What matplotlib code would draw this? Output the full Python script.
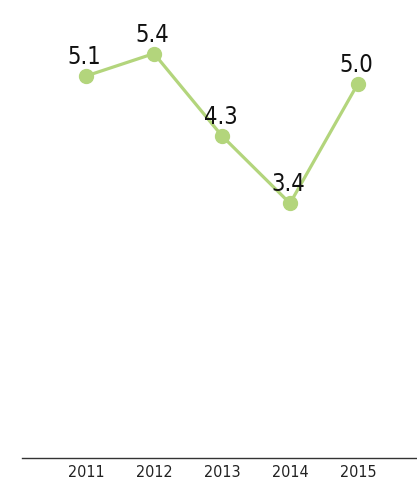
import matplotlib
matplotlib.use("Agg")
import matplotlib.pyplot as plt

# data
years = [2011, 2012, 2013, 2014, 2015]
values = [5.1, 5.4, 4.3, 3.4, 5.0]
value_labels = ["5.1", "5.4", "4.3", "3.4", "5.0"]

green = "#b3d57c"

plt.rcParams["font.family"] = ["DejaVu Sans"]
plt.rcParams["font.stretch"] = "condensed"

fig = plt.figure(figsize=(4.17, 4.83), dpi=100)
ax = fig.add_axes([22 / 417, 25 / 483, 395 / 417, 458 / 483])

ax.plot(years, values, color=green, linewidth=2.3, marker="o",
        markersize=10, markerfacecolor=green, markeredgecolor=green, zorder=3)

for x, v, lab in zip(years, values, value_labels):
    ax.annotate(lab, (x, v), xytext=(-1, 5), textcoords="offset points",
                ha="center", va="bottom", fontsize=17, color="#111111", zorder=4)

ax.set_xlim(2011 - 64 / 68, 2015 + 59 / 68)
ax.set_ylim(0, 458 / 74.9)

for s in ["top", "right", "left"]:
    ax.spines[s].set_visible(False)
ax.spines["bottom"].set_color("#333333")
ax.spines["bottom"].set_linewidth(1.0)
ax.set_yticks([])
ax.set_xticks(years)
ax.set_xticklabels([str(y) for y in years], fontsize=11.5, color="#222222")
ax.tick_params(axis="x", length=0, pad=5)

fig.savefig("out.png", dpi=100)
